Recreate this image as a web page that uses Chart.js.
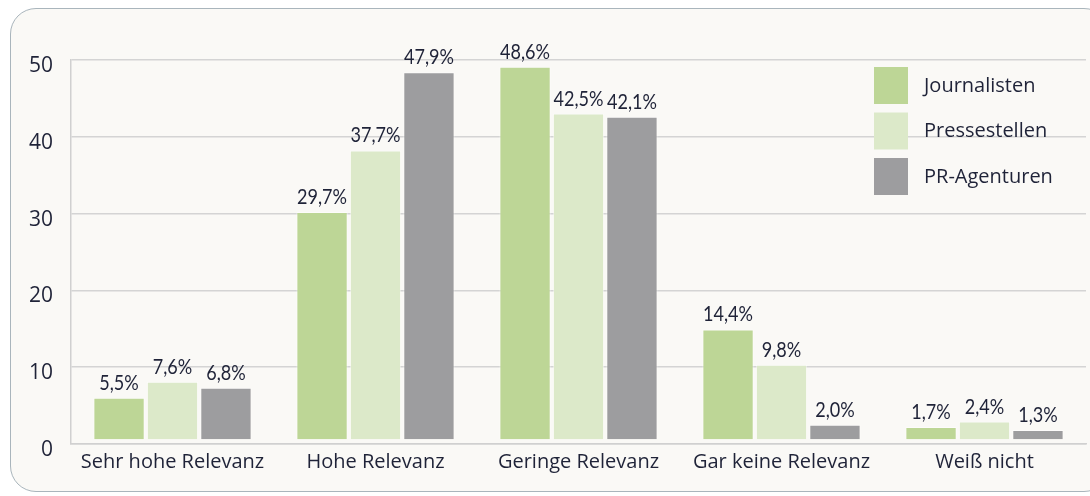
<!DOCTYPE html>
<html><head><meta charset="utf-8">
<script src="https://cdn.jsdelivr.net/npm/chart.js@4"></script>
<style>
html,body{margin:0;padding:0;background:#fff;}
#wrap{position:relative;width:1090px;height:496px;overflow:hidden;}
#box{position:absolute;left:10px;top:8px;width:1100px;height:484px;border:1.5px solid #a9b5bc;border-radius:26px;background:#faf9f6;box-sizing:border-box;}
canvas{position:absolute;left:0;top:0;}
</style></head>
<body><div id="wrap"><div id="box"></div><canvas id="c" width="1090" height="496"></canvas></div>
<script>
const categories = ["Sehr hohe Relevanz","Hohe Relevanz","Geringe Relevanz","Gar keine Relevanz","Weiß nicht"];
const seriesNames = ["Journalisten","Pressestellen","PR-Agenturen"];
const journalisten = [5.5, 29.7, 48.6, 14.4, 1.7];
const pressestellen = [7.6, 37.7, 42.5, 9.8, 2.4];
const agenturen = [6.8, 47.9, 42.1, 2.0, 1.3];
const yTicks = [0, 10, 20, 30, 40, 50];
const colors = ["#bdd696", "#dce9c9", "#9d9d9f"];

const FONT = "'Open Sans', Lato, sans-serif";
const LABELFONT = "Lato, sans-serif";
const TXT = "#1f2338";

const shiftPlugin = {
  id: 'shift',
  beforeDatasetsDraw(chart){ chart.ctx.save(); chart.ctx.translate(0,-4); },
  afterDatasetsDraw(chart){
    const ctx = chart.ctx;
    ctx.font = "21px " + LABELFONT;
    ctx.fillStyle = TXT;
    ctx.textAlign = 'center';
    ctx.textBaseline = 'alphabetic';
    chart.data.datasets.forEach((ds, i) => {
      chart.getDatasetMeta(i).data.forEach((bar, j) => {
        const v = ds.data[j];
        ctx.save();
        ctx.translate(bar.x, bar.y - 8);
        ctx.scale(0.86, 1);
        ctx.fillText(v.toFixed(1).replace('.', ',') + '%', 0, 0);
        ctx.restore();
      });
    });
    ctx.restore();
  }
};

const legendPlugin = {
  id: 'customLegend',
  afterDraw(chart){
    const ctx = chart.ctx;
    ctx.save();
    ctx.font = "20px " + FONT;
    ctx.textBaseline = 'middle';
    ctx.textAlign = 'left';
    chart.data.datasets.forEach((ds, i) => {
      const y = 67 + i * 45.5;
      ctx.fillStyle = ds.backgroundColor;
      ctx.fillRect(874, y, 34, 37);
      ctx.fillStyle = TXT;
      ctx.fillText(ds.label, 924, y + 19);
    });
    ctx.restore();
  }
};

new Chart(document.getElementById('c'), {
  type: 'bar',
  data: {
    labels: categories,
    datasets: [
      {label: seriesNames[0], data: journalisten, backgroundColor: colors[0]},
      {label: seriesNames[1], data: pressestellen, backgroundColor: colors[1]},
      {label: seriesNames[2], data: agenturen, backgroundColor: colors[2]}
    ].map(d => Object.assign(d, {categoryPercentage: 0.79, barPercentage: 0.96, borderWidth: 1, borderColor: 'rgba(255,255,255,0.5)'}))
  },
  options: {
    responsive: false,
    animation: false,
    layout: {padding: {top: 60, right: 4, left: 0, bottom: 0}},
    plugins: {legend: {display: false}, tooltip: {enabled: false}},
    scales: {
      x: {
        grid: {display: false, drawTicks: false},
        border: {display: true, color: '#d0d0d0', width: 1.5},
        ticks: {color: TXT, font: {family: FONT, size: 20}, padding: 6, maxRotation: 0, autoSkip: false},
        afterFit(s){ s.height = 52; }
      },
      y: {
        min: 0, max: 50,
        afterBuildTicks(s){ s.ticks = yTicks.map(v => ({value: v})); },
        grid: {color: '#d4d4d4', lineWidth: 1.5, drawTicks: false},
        border: {display: true, color: '#d0d0d0', width: 1.5},
        ticks: {color: TXT, font: {family: FONT, size: 21}, padding: 18, labelOffset: 6},
        afterFit(s){ s.width = 71; }
      }
    }
  },
  plugins: [shiftPlugin, legendPlugin]
});
</script></body></html>
